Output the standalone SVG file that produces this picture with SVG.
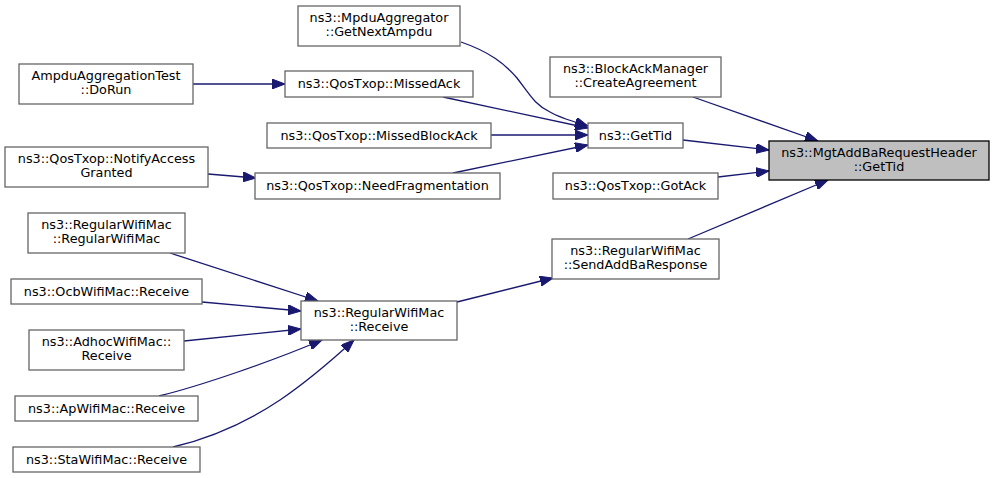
<svg xmlns="http://www.w3.org/2000/svg" width="995" height="478" viewBox="0 0 995 478">
<defs>
<marker id="ah" markerUnits="userSpaceOnUse" markerWidth="14" markerHeight="10" refX="13" refY="5" orient="auto">
<path d="M0,0 L13,5 L0,10 z" fill="#191970" stroke="#191970" stroke-width="1"/>
</marker>
</defs>
<style>
rect.n{fill:#ffffff;stroke:#666666;stroke-width:1.3}
rect.root{fill:#bfbfbf;stroke:#000000;stroke-width:1.3}
text{font-family:"DejaVu Sans",sans-serif;font-size:12.8px;fill:#000000;text-anchor:middle}
.e path{fill:none;stroke:#191970;stroke-width:1.3;marker-end:url(#ah)}
</style>
<rect width="995" height="478" fill="#ffffff"/>
<g class="e" id="edges">
<path d="M683,140 L769,150"/>
<path d="M693,97 L818,141"/>
<path d="M718,177 L769,171"/>
<path d="M688,239 L828,180"/>
<path d="M461,42 C490,52 505,64 517,78 C530,95 535,105 550,112 C560,118 575,122 588,126"/>
<path d="M443,97 L588,128"/>
<path d="M491,135 L588,135"/>
<path d="M453,173 L588,145"/>
<path d="M193,84 L285,84"/>
<path d="M208,174 L256,178"/>
<path d="M457,302 L553,278"/>
<path d="M170,253 L318,301"/>
<path d="M202,302 L301,311"/>
<path d="M184,341 L301,329"/>
<path d="M159,396 C200,386 270,362 322,340"/>
<path d="M173,447 C215,437 250,420 280,400 C305,383 330,362 354,340"/>
</g>
<g id="target"><rect class="root" x="769" y="141" width="220" height="39"/><text x="879" y="157">ns3::MgtAddBaRequestHeader</text><text x="879" y="171">::GetTid</text></g>
<g id="gettid"><rect class="n" x="588" y="123" width="95" height="25"/><text x="635.5" y="140">ns3::GetTid</text></g>
<g id="createagreement"><rect class="n" x="550" y="57" width="171" height="40"/><text x="635.5" y="73">ns3::BlockAckManager</text><text x="635.5" y="87">::CreateAgreement</text></g>
<g id="gotack"><rect class="n" x="553" y="173" width="165" height="26"/><text x="635.5" y="190">ns3::QosTxop::GotAck</text></g>
<g id="sendaddba"><rect class="n" x="552" y="239" width="167" height="40"/><text x="635.5" y="255">ns3::RegularWifiMac</text><text x="635.5" y="269">::SendAddBaResponse</text></g>
<g id="getnextampdu"><rect class="n" x="298" y="6" width="162" height="40"/><text x="379" y="22">ns3::MpduAggregator</text><text x="379" y="36">::GetNextAmpdu</text></g>
<g id="dorun"><rect class="n" x="19" y="64" width="174" height="40"/><text x="106" y="80">AmpduAggregationTest</text><text x="106" y="94">::DoRun</text></g>
<g id="missedack"><rect class="n" x="285" y="71" width="188" height="26"/><text x="379" y="88">ns3::QosTxop::MissedAck</text></g>
<g id="missedblockack"><rect class="n" x="267" y="123" width="224" height="25"/><text x="379" y="140">ns3::QosTxop::MissedBlockAck</text></g>
<g id="notify"><rect class="n" x="5" y="147" width="203" height="40"/><text x="106.5" y="163">ns3::QosTxop::NotifyAccess</text><text x="106.5" y="177">Granted</text></g>
<g id="needfrag"><rect class="n" x="255" y="173" width="245" height="26"/><text x="377.5" y="190">ns3::QosTxop::NeedFragmentation</text></g>
<g id="regularwifimac"><rect class="n" x="28" y="213" width="157" height="40"/><text x="106.5" y="229">ns3::RegularWifiMac</text><text x="106.5" y="243">::RegularWifiMac</text></g>
<g id="ocb"><rect class="n" x="11" y="279" width="191" height="25"/><text x="106.5" y="296">ns3::OcbWifiMac::Receive</text></g>
<g id="receive"><rect class="n" x="301" y="301" width="156" height="39"/><text x="379" y="317">ns3::RegularWifiMac</text><text x="379" y="331">::Receive</text></g>
<g id="adhoc"><rect class="n" x="29" y="330" width="155" height="40"/><text x="106.5" y="346">ns3::AdhocWifiMac::</text><text x="106.5" y="360">Receive</text></g>
<g id="ap"><rect class="n" x="15" y="396" width="183" height="25"/><text x="106.5" y="413">ns3::ApWifiMac::Receive</text></g>
<g id="sta"><rect class="n" x="13" y="447" width="187" height="25"/><text x="106.5" y="464">ns3::StaWifiMac::Receive</text></g>
</svg>
